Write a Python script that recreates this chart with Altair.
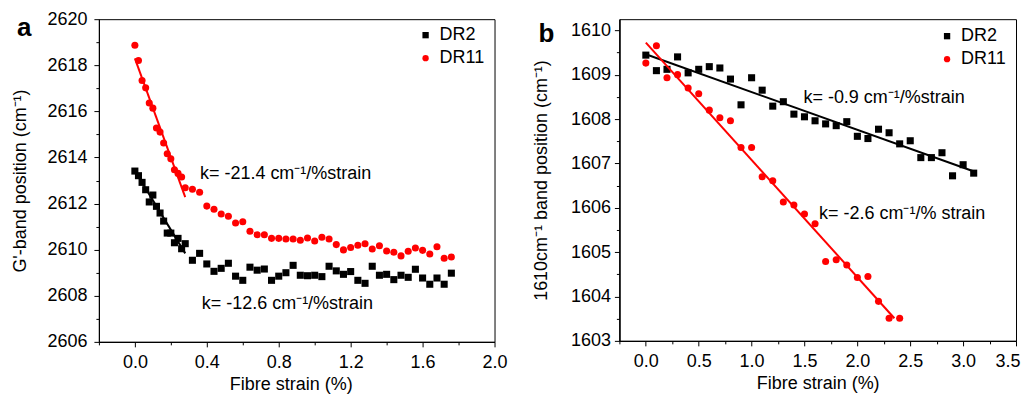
import altair as alt
import pandas as pd

FONT = "Liberation Sans"

series_names = ["DR2", "DR11"]
series_colors = ["#000000", "#ff0000"]
series_shapes = ["square", "circle"]

# ---------------- panel a ----------------
a_strain = [0.00, 0.02, 0.04, 0.06, 0.08, 0.10, 0.12, 0.14, 0.16, 0.18, 0.20, 0.22, 0.24, 0.26, 0.28,
            0.32, 0.36, 0.40, 0.44, 0.48, 0.52, 0.56, 0.60, 0.64, 0.68, 0.72, 0.76, 0.80, 0.84, 0.88,
            0.92, 0.96, 1.00, 1.04, 1.08, 1.12, 1.16, 1.20, 1.24, 1.28, 1.32, 1.36, 1.40, 1.44, 1.48,
            1.52, 1.56, 1.60, 1.64, 1.68, 1.72, 1.76]
a_dr2 = [2613.41, 2613.21, 2612.92, 2612.60, 2612.07, 2612.37, 2611.88, 2611.59, 2611.24, 2610.72,
         2610.72, 2610.30, 2610.49, 2610.04, 2610.26, 2609.54, 2609.84, 2609.38, 2609.06, 2609.19,
         2609.41, 2608.85, 2608.67, 2609.24, 2609.11, 2609.16, 2608.67, 2608.85, 2609.00, 2609.32,
         2608.89, 2608.87, 2608.89, 2608.83, 2609.28, 2609.08, 2608.93, 2609.05, 2608.67, 2608.54,
         2609.28, 2608.89, 2608.93, 2608.70, 2608.89, 2608.80, 2609.15, 2608.77, 2608.50, 2608.77,
         2608.50, 2608.98]
a_dr11 = [2618.87, 2618.21, 2617.34, 2617.02, 2616.36, 2616.14, 2615.28, 2615.10, 2614.63, 2614.16,
          2613.94, 2613.47, 2613.31, 2613.15, 2612.69, 2612.62, 2612.49, 2611.89, 2611.75, 2611.55,
          2611.45, 2611.16, 2611.21, 2610.80, 2610.65, 2610.65, 2610.49, 2610.49, 2610.46, 2610.46,
          2610.41, 2610.51, 2610.38, 2610.54, 2610.46, 2610.22, 2609.99, 2610.09, 2610.19, 2610.26,
          2610.03, 2610.17, 2609.94, 2609.89, 2609.73, 2609.93, 2610.07, 2609.97, 2609.81, 2610.13,
          2609.63, 2609.68]
a_fit_dr2_x = [0.0, 0.28]
a_fit_dr2_y = [2613.42, 2609.84]
a_fit_dr11_x = [0.0, 0.28]
a_fit_dr11_y = [2618.30, 2612.28]
a_ann_text = ["k= -21.4 cm\u207b\u00b9/%strain", "k= -12.6 cm\u207b\u00b9/%strain"]
a_ann_x = [0.362, 0.372]
a_ann_y = [2613.27, 2607.65]
a_x_major = [0.0, 0.4, 0.8, 1.2, 1.6, 2.0]
a_x_minor = [-0.2, 0.2, 0.6, 1.0, 1.4, 1.8]
a_y_major = [2606, 2608, 2610, 2612, 2614, 2616, 2618, 2620]
a_y_minor = [2607, 2609, 2611, 2613, 2615, 2617, 2619]

# ---------------- panel b ----------------
b_dr2_strain = [0.0, 0.1, 0.2, 0.3, 0.4, 0.5, 0.6, 0.7, 0.8, 0.9, 1.0, 1.1, 1.2, 1.3, 1.4, 1.5,
                1.6, 1.7, 1.8, 1.9, 2.0, 2.1, 2.2, 2.3, 2.4, 2.5, 2.6, 2.7, 2.8, 2.9, 3.0, 3.1]
b_dr2 = [1609.44, 1609.09, 1609.12, 1609.40, 1609.04, 1609.12, 1609.18, 1609.15, 1608.90, 1608.32,
         1608.93, 1608.65, 1608.29, 1608.39, 1608.11, 1608.05, 1607.96, 1607.89, 1607.85, 1607.94,
         1607.61, 1607.56, 1607.77, 1607.69, 1607.44, 1607.51, 1607.13, 1607.13, 1607.24, 1606.72,
         1606.97, 1606.78]
b_dr11_strain = [0.0, 0.1, 0.2, 0.3, 0.4, 0.5, 0.6, 0.7, 0.8, 0.9, 1.0, 1.1, 1.2, 1.3, 1.4, 1.5,
                 1.6, 1.7, 1.8, 1.9, 2.0, 2.1, 2.2, 2.3, 2.4]
b_dr11 = [1609.26, 1609.65, 1608.93, 1609.00, 1608.70, 1608.57, 1608.20, 1608.03, 1607.96, 1607.36,
          1607.36, 1606.70, 1606.61, 1606.13, 1606.06, 1605.86, 1605.64, 1604.79, 1604.83, 1604.71,
          1604.43, 1604.45, 1603.89, 1603.51, 1603.51]
b_fit_dr2_x = [0.0, 3.11]
b_fit_dr2_y = [1609.46, 1606.81]
b_fit_dr11_x = [0.0, 2.35]
b_fit_dr11_y = [1609.72, 1603.51]
b_ann_text = ["k= -0.9 cm\u207b\u00b9/%strain", "k= -2.6 cm\u207b\u00b9/% strain"]
b_ann_x = [1.49, 1.638]
b_ann_y = [1608.48, 1605.87]
b_x_major = [0.0, 0.5, 1.0, 1.5, 2.0, 2.5, 3.0, 3.5]
b_x_minor = [-0.25, 0.25, 0.75, 1.25, 1.75, 2.25, 2.75, 3.25]
b_y_major = [1603, 1604, 1605, 1606, 1607, 1608, 1609, 1610]
b_y_minor = [1603.5, 1604.5, 1605.5, 1606.5, 1607.5, 1608.5, 1609.5]


def make_panel(xs1, ys1, xs2, ys2, fit1, fit2, ann, xdom, ydom, xmaj, xmin, ymaj, ymin,
               xfmt, yfmt, w, h, ytitle, letter, letter_xy, legend_xy, ylabpad, xtitle_x,
               xflush):
    pts = pd.DataFrame({
        "strain": list(xs1) + list(xs2),
        "pos": list(ys1) + list(ys2),
        "series": [series_names[0]] * len(xs1) + [series_names[1]] * len(xs2),
    })
    xs = alt.Scale(domain=xdom, nice=False, zero=False)
    ysc = alt.Scale(domain=ydom, nice=False, zero=False)

    xaxis_kw = {}
    if xflush is not None:
        xaxis_kw = {"labelFlush": True, "labelFlushOffset": xflush}
    xaxis = alt.Axis(
        values=xmaj, format=xfmt, tickSize=5, orient="bottom",
        title="Fibre strain (%)",
        titleX=xtitle_x, titleY=48, titleBaseline="alphabetic", titleAlign="center",
        labelPadding=7, **xaxis_kw,
    )
    yaxis = alt.Axis(
        values=ymaj, format=yfmt, tickSize=5, orient="left",
        title=ytitle,
        titleX=-78, titleY=h / 2, titleBaseline="middle", titleAlign="center", titleAngle=270,
        labelPadding=ylabpad,
    )
    xaxis_minor = alt.Axis(values=xmin, tickSize=3, labels=False, title=None, orient="bottom")
    yaxis_minor = alt.Axis(values=ymin, tickSize=3, labels=False, title=None, orient="left")

    leg = alt.Legend(orient="none", legendX=legend_xy[0], legendY=legend_xy[1], title=None,
                     labelFontSize=18, labelFont=FONT, labelColor="black", symbolSize=40,
                     labelOffset=5, rowPadding=5, symbolStrokeWidth=0, padding=0)

    # invisible layer that only carries the minor ticks
    minor = alt.Chart(pts).mark_point(opacity=0, size=0).encode(
        x=alt.X("strain:Q", scale=xs, axis=xaxis_minor),
        y=alt.Y("pos:Q", scale=ysc, axis=yaxis_minor),
    )

    points = alt.Chart(pts).mark_point(filled=True, size=50, opacity=1).encode(
        x=alt.X("strain:Q", scale=xs, axis=xaxis),
        y=alt.Y("pos:Q", scale=ysc, axis=yaxis),
        color=alt.Color("series:N", scale=alt.Scale(domain=series_names, range=series_colors), legend=leg),
        shape=alt.Shape("series:N", scale=alt.Scale(domain=series_names, range=series_shapes), legend=leg),
    )
    layers = [points]
    for (fx, fy), col in zip([fit1, fit2], series_colors):
        fd = pd.DataFrame({"strain": fx, "pos": fy})
        layers.append(alt.Chart(fd).mark_line(color=col, strokeWidth=2).encode(
            x=alt.X("strain:Q", scale=xs), y=alt.Y("pos:Q", scale=ysc)))
    ad = pd.DataFrame({"strain": ann[0], "pos": ann[1], "t": ann[2]})
    layers.append(alt.Chart(ad).mark_text(align="left", baseline="middle", fontSize=18, font=FONT,
                                          color="black").encode(
        x=alt.X("strain:Q", scale=xs), y=alt.Y("pos:Q", scale=ysc), text="t:N"))
    ld = pd.DataFrame({"t": [letter]})
    layers.append(alt.Chart(ld).mark_text(align="left", baseline="alphabetic", fontSize=26,
                                          fontWeight="bold", font=FONT, color="black").encode(
        x=alt.value(letter_xy[0]), y=alt.value(letter_xy[1]), text="t:N"))
    main = alt.layer(*layers)
    return alt.layer(minor, main).resolve_axis(x="independent", y="independent").properties(
        width=w, height=h)


panel_a = make_panel(
    a_strain, a_dr2, a_strain, a_dr11,
    (a_fit_dr2_x, a_fit_dr2_y), (a_fit_dr11_x, a_fit_dr11_y),
    (a_ann_x, a_ann_y, a_ann_text),
    [-0.2, 2.0], [2606, 2620], a_x_major, a_x_minor, a_y_major, a_y_minor, ".1f", "d",
    396, 323, "G'-band position (cm\u207b\u00b9)", "a", (-82, 17), (318, 7), 7, 192, None,
)
panel_b = make_panel(
    b_dr2_strain, b_dr2, b_dr11_strain, b_dr11,
    (b_fit_dr2_x, b_fit_dr2_y), (b_fit_dr11_x, b_fit_dr11_y),
    (b_ann_x, b_ann_y, b_ann_text),
    [-0.25, 3.5], [1603, 1610.25], b_x_major, b_x_minor, b_y_major, b_y_minor, ".1f", "d",
    397, 322, "1610cm\u207b\u00b9 band position (cm\u207b\u00b9)", "b", (-81, 23), (319, 8), 4, 198.5, 4,
)

chart = alt.hconcat(panel_a, panel_b, spacing=125, bounds="flush").resolve_scale(
    x="independent", y="independent", color="independent", shape="independent"
).resolve_legend(color="independent", shape="independent").properties(
    padding={"left": 3, "top": 1, "right": 0, "bottom": 0}
).configure_view(stroke="black", strokeWidth=1).configure_axis(
    grid=False, domainColor="black", domainWidth=1, tickColor="black", tickWidth=1,
    labelColor="black", titleColor="black", labelFont=FONT, titleFont=FONT,
    labelFontSize=18, titleFontSize=18, titleFontWeight="normal",
    labelFlush=False, labelOverlap=False,
).configure_text(font=FONT)

chart.save("out.html", embed_options={"renderer": "svg", "actions": False})
